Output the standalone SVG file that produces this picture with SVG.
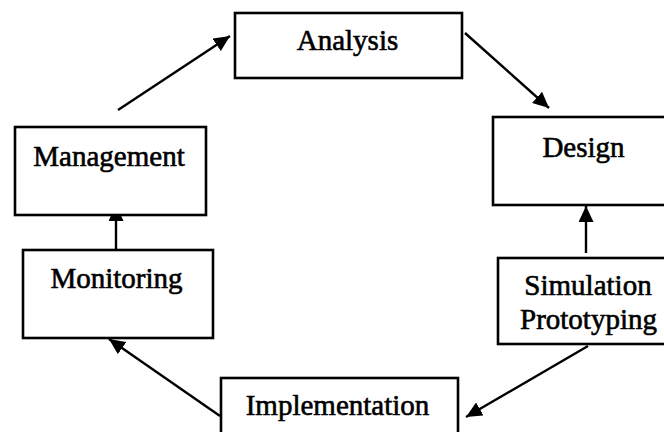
<svg xmlns="http://www.w3.org/2000/svg" width="664" height="432" viewBox="0 0 664 432">
<defs>
<marker id="ah" markerUnits="userSpaceOnUse" markerWidth="17" markerHeight="15" refX="16" refY="7.5" orient="auto">
<path d="M0,0 L16,7.5 L0,15 z" fill="#000"/>
</marker>
<style>
.box{fill:#fff;stroke:#000;stroke-width:2.6}
.lbl{font-family:"Liberation Serif","Times New Roman",serif;font-size:29px;fill:#000;stroke:#000;stroke-width:0.6;text-anchor:middle}
.conn{stroke:#000;stroke-width:2.4;fill:none;marker-end:url(#ah)}
</style>
</defs>
<rect width="664" height="432" fill="#fff"/>
<g id="connectors">
<line class="conn" x1="118" y1="110" x2="230" y2="36"/>
<line class="conn" x1="465" y1="33" x2="549" y2="108"/>
<line class="conn" x1="586" y1="253" x2="586" y2="206"/>
<line class="conn" x1="588" y1="346" x2="466" y2="417"/>
<line class="conn" x1="220" y1="416" x2="109" y2="339"/>
<line class="conn" x1="116" y1="250" x2="116" y2="205"/>
</g>
<g id="analysis">
<rect class="box" x="235" y="13" width="227" height="65"/>
<text class="lbl" x="347.5" y="50">Analysis</text>
</g>
<g id="design">
<rect class="box" x="493" y="117" width="180" height="88"/>
<text class="lbl" x="583.5" y="157">Design</text>
</g>
<g id="simulation">
<rect class="box" x="498" y="258" width="180" height="86"/>
<text class="lbl" x="588" y="295">Simulation</text>
<text class="lbl" x="588.5" y="329">Prototyping</text>
</g>
<g id="implementation">
<rect class="box" x="221" y="378" width="237" height="70"/>
<text class="lbl" x="337.5" y="415">Implementation</text>
</g>
<g id="monitoring">
<rect class="box" x="23" y="250" width="190" height="88"/>
<text class="lbl" x="116.5" y="288">Monitoring</text>
</g>
<g id="management">
<rect class="box" x="15" y="127" width="191" height="88"/>
<text class="lbl" x="109" y="166">Management</text>
</g>
</svg>
